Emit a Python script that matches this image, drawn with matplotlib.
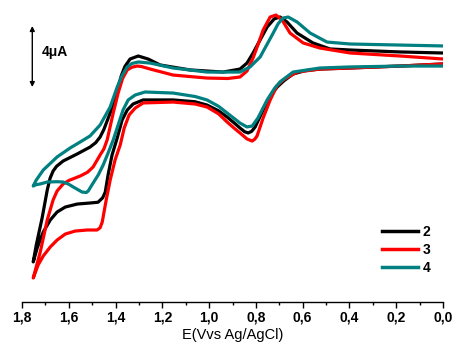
import numpy as np
import matplotlib
matplotlib.use("Agg")
import matplotlib.pyplot as plt
from matplotlib.ticker import MultipleLocator, FuncFormatter

plt.rcParams["font.family"] = ["Liberation Sans", "DejaVu Sans"]

# Cyclic voltammograms: potential (V vs Ag/AgCl), current (uA, arbitrary offset)
# "up" branch runs 0.0 -> 1.75 V, "dn" branch runs back 1.75 -> 0.0 V
E_2_up = [0.000, 0.184, 0.397, 0.483, 0.556, 0.624, 0.667, 0.697, 0.722, 0.752,
          0.782, 0.812, 0.838, 0.868, 0.940, 1.081, 1.209, 1.261, 1.303, 1.338,
          1.360, 1.375, 1.389, 1.423, 1.450, 1.466, 1.485, 1.509, 1.564, 1.624,
          1.652, 1.667, 1.680, 1.692, 1.714, 1.739, 1.752]
I_2_up = [16.60, 16.67, 16.80, 16.87, 17.27, 17.93, 18.67, 19.00, 18.87, 18.33,
          17.47, 16.60, 15.93, 15.53, 15.33, 15.47, 15.80, 16.20, 16.40, 16.20,
          15.70, 15.10, 14.33, 12.60, 11.50, 11.00, 10.62, 10.33, 9.87, 9.40,
          9.05, 8.73, 8.25, 7.47, 5.60, 3.80, 2.67]
E_2_dn = [1.735, 1.722, 1.709, 1.679, 1.650, 1.615, 1.564, 1.509, 1.475, 1.455,
          1.444, 1.432, 1.415, 1.393, 1.372, 1.350, 1.325, 1.282, 1.154, 1.060,
          1.009, 0.960, 0.923, 0.890, 0.868, 0.848, 0.833, 0.818, 0.803, 0.769,
          0.739, 0.709, 0.680, 0.641, 0.590, 0.526, 0.397, 0.184, 0.000]
I_2_dn = [3.60, 4.15, 4.67, 5.47, 6.00, 6.33, 6.53, 6.60, 6.65, 6.95,
          7.33, 8.47, 9.80, 10.93, 12.13, 12.80, 13.20, 13.47, 13.47, 13.35,
          13.13, 12.75, 12.33, 11.90, 11.60, 11.35, 11.27, 11.38, 11.67, 12.80,
          13.73, 14.33, 14.75, 15.20, 15.42, 15.53, 15.60, 15.73, 15.87]

E_3_up = [0.000, 0.184, 0.397, 0.526, 0.598, 0.654, 0.688, 0.714, 0.739, 0.769,
          0.790, 0.812, 0.838, 0.868, 0.920, 1.009, 1.154, 1.252, 1.290, 1.308,
          1.330, 1.350, 1.370, 1.389, 1.410, 1.436, 1.450, 1.466, 1.496, 1.520,
          1.551, 1.600, 1.624, 1.650, 1.667, 1.692, 1.722, 1.752]
I_3_up = [16.20, 16.40, 16.60, 16.93, 17.27, 17.93, 18.80, 19.13, 19.00, 18.13,
          17.20, 16.27, 15.40, 15.00, 14.90, 14.93, 15.13, 15.53, 15.70, 15.73,
          15.65, 15.47, 14.90, 13.93, 12.60, 10.80, 10.20, 9.80, 9.00, 8.65,
          8.40, 8.10, 7.87, 7.40, 6.80, 5.47, 3.33, 1.60]
E_3_dn = [1.731, 1.709, 1.679, 1.650, 1.615, 1.573, 1.521, 1.479, 1.466, 1.457,
          1.440, 1.423, 1.402, 1.380, 1.363, 1.342, 1.316, 1.282, 1.154, 1.060,
          1.009, 0.960, 0.923, 0.890, 0.868, 0.838, 0.816, 0.805, 0.795, 0.769,
          0.739, 0.710, 0.684, 0.624, 0.526, 0.397, 0.184, 0.000]
I_3_dn = [2.47, 3.07, 3.67, 4.13, 4.53, 4.73, 4.80, 4.80, 4.95, 5.33,
          6.80, 8.13, 9.47, 10.47, 11.60, 12.47, 12.93, 13.27, 13.33, 13.20,
          13.00, 12.55, 12.00, 11.55, 11.27, 10.87, 10.73, 10.85, 11.07, 12.27,
          13.47, 14.40, 14.80, 15.33, 15.53, 15.60, 15.73, 15.87]

E_4_up = [0.000, 0.184, 0.397, 0.496, 0.568, 0.624, 0.662, 0.684, 0.705, 0.726,
          0.755, 0.782, 0.825, 0.868, 1.009, 1.154, 1.252, 1.303, 1.330, 1.350,
          1.372, 1.393, 1.423, 1.466, 1.509, 1.551, 1.594, 1.650, 1.709, 1.739,
          1.752]
I_4_up = [17.07, 17.13, 17.20, 17.33, 17.93, 18.67, 19.00, 18.93, 18.55, 17.93,
          17.10, 16.33, 15.67, 15.33, 15.33, 15.60, 15.93, 16.00, 15.90, 15.67,
          15.10, 14.33, 13.00, 11.80, 11.07, 10.67, 10.27, 9.67, 8.80, 8.13,
          7.73]
E_4_dn = [1.740, 1.722, 1.692, 1.650, 1.624, 1.600, 1.581, 1.543, 1.525, 1.517,
          1.496, 1.474, 1.453, 1.432, 1.410, 1.389, 1.368, 1.346, 1.316, 1.274,
          1.154, 1.060, 1.009, 0.960, 0.923, 0.890, 0.868, 0.838, 0.816, 0.791,
          0.752, 0.720, 0.697, 0.641, 0.526, 0.397, 0.184, 0.000]
I_4_dn = [7.82, 7.87, 8.00, 8.02, 8.00, 7.85, 7.67, 7.33, 7.30, 7.40,
          7.93, 8.47, 9.13, 9.93, 10.80, 11.80, 12.80, 13.47, 13.80, 14.00,
          13.93, 13.70, 13.47, 13.05, 12.60, 12.20, 11.93, 11.67, 11.73, 12.27,
          13.47, 14.25, 14.67, 15.33, 15.60, 15.67, 15.73, 15.73]

labels = ["2", "3", "4"]
colors = ["#000000", "#ff0000", "#008080"]

fig = plt.figure(figsize=(4.57, 3.56), dpi=100)
ax = fig.add_axes([22 / 457, 54 / 356, 421 / 457, 302 / 356])

curves = [(E_2_up + E_2_dn, I_2_up + I_2_dn),
          (E_3_up + E_3_dn, I_3_up + I_3_dn),
          (E_4_up + E_4_dn, I_4_up + I_4_dn)]
for (e, i), lab, c in zip(curves, labels, colors):
    ax.plot(e, i, color=c, lw=2.3, label=lab, solid_joinstyle="round")

ax.set_xlim(1.8, 0.0)
ax.set_ylim(0, 302 / 15)

for s in ["top", "left", "right"]:
    ax.spines[s].set_visible(False)
ax.spines["bottom"].set_linewidth(1.0)
ax.set_yticks([])
ax.xaxis.set_major_locator(MultipleLocator(0.2))
ax.xaxis.set_minor_locator(MultipleLocator(0.1))
ax.xaxis.set_major_formatter(FuncFormatter(lambda v, p: ("%.1f" % abs(v)).replace(".", ",")))
ax.tick_params(axis="x", which="major", direction="out", length=4, width=1, pad=2,
               labelsize=10)
ax.tick_params(axis="x", which="minor", direction="out", length=2, width=1)
for t in ax.get_xticklabels():
    t.set_fontweight("bold")
ax.set_xlabel("E(Vvs Ag/AgCl)", fontsize=10.5, labelpad=3)

# 4 uA scale bar
ax.annotate("", xy=(1.756, 14.33), xytext=(1.756, 18.40),
            arrowprops=dict(arrowstyle="<|-|>", color="black", lw=1.0,
                            mutation_scale=7, shrinkA=0, shrinkB=0))
ax.text(1.714, 16.67, "4\u03bcA", fontsize=10, fontweight="bold", va="center", ha="left")

leg = ax.legend(loc="upper left", bbox_to_anchor=(382 / 457, 1 - 225 / 356),
                bbox_transform=fig.transFigure, frameon=False, borderpad=0,
                borderaxespad=0, handlelength=2.6, handletextpad=0.3, labelspacing=0.3,
                prop={"weight": "bold", "size": 10})
for h in leg.get_lines():
    h.set_linewidth(2.5)

fig.savefig("out.png", dpi=100)
